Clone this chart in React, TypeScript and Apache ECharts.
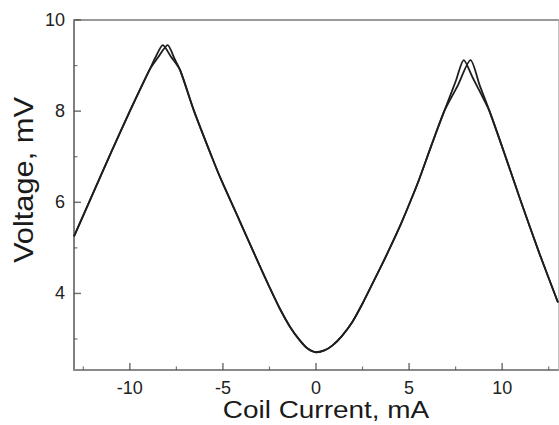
import React, { useEffect, useRef } from "react";
import * as echarts from "echarts";

// Coil current (mA) and voltage (mV) for the two overlapping sweeps
const currentA = [-13, -12.14, -11, -10, -8.95, -8.6, -8.23, -7.8, -7.3, -6.55, -5.6, -5.09, -4.11, -3.04, -2.5, -1.96, -1.4, -0.89, -0.45, 0, 0.45, 0.89, 1.4, 1.96, 2.5, 3.04, 3.6, 4.11, 4.6, 5.1, 5.53, 6.2, 6.89, 7.5, 7.94, 8.4, 8.9, 9.32, 10.2, 10.98, 12, 13];
const voltageA = [5.25, 6.05, 7.1, 8.0, 8.9, 9.2, 9.45, 9.2, 8.9, 8.0, 7.0, 6.49, 5.6, 4.62, 4.14, 3.68, 3.27, 2.98, 2.79, 2.71, 2.75, 2.86, 3.07, 3.38, 3.78, 4.22, 4.68, 5.12, 5.56, 6.05, 6.49, 7.25, 8.0, 8.65, 9.12, 8.75, 8.35, 8.0, 6.98, 6.05, 4.88, 3.8];
const currentB = [-13, -12.14, -11, -10, -8.95, -8.5, -7.97, -7.6, -7.3, -6.55, -5.6, -5.09, -4.11, -3.04, -2.5, -1.96, -1.4, -0.89, -0.45, 0, 0.45, 0.89, 1.4, 1.96, 2.5, 3.04, 3.6, 4.11, 4.6, 5.1, 5.53, 6.2, 6.89, 7.6, 8.3, 8.8, 9.32, 10.2, 10.98, 12, 13];
const voltageB = [5.25, 6.05, 7.1, 8.0, 8.9, 9.17, 9.45, 9.15, 8.9, 8.0, 7.0, 6.49, 5.6, 4.62, 4.14, 3.68, 3.27, 2.98, 2.79, 2.71, 2.75, 2.86, 3.07, 3.38, 3.78, 4.22, 4.68, 5.12, 5.56, 6.05, 6.49, 7.25, 8.0, 8.55, 9.12, 8.56, 8.0, 6.98, 6.05, 4.88, 3.8];

const xRange = [-13, 13];
const yRange = [2.32, 10];
const xMajorTicks = [-10, -5, 0, 5, 10];
const xMinorTicks = [-12.5, -7.5, -2.5, 2.5, 7.5, 12.5];
const yMajorTicks = [4, 6, 8, 10];
const yMinorTicks = [3, 5, 7, 9];

const xTitle = "Coil Current, mA";
const yTitle = "Voltage, mV";

const FONT = "'Liberation Sans', Arial, Helvetica, sans-serif";

export default function App() {
  const ref = useRef<HTMLDivElement>(null);

  useEffect(() => {
    if (!ref.current) return;
    const chart = echarts.init(ref.current, undefined, { renderer: "svg" });
    const hidden = { show: false };
    const baseX = { type: "value" as const, min: xRange[0], max: xRange[1], splitLine: hidden, minorTick: hidden, minorSplitLine: hidden, axisTick: hidden };
    const baseY = { type: "value" as const, min: yRange[0], max: yRange[1], splitLine: hidden, minorTick: hidden, minorSplitLine: hidden, axisTick: hidden };
    const pairs = (xs: number[], ys: number[]) => xs.map((x, i) => [x, ys[i]]);
    const tickSeries = (data: number[][], size: number[], offset: number[]) => ({
      type: "scatter",
      data,
      symbol: "rect",
      symbolSize: size,
      symbolOffset: offset,
      itemStyle: { color: "#505050" },
      silent: true,
      clip: false,
      z: 5,
    });

    chart.setOption({
      animation: false,
      backgroundColor: "#ffffff",
      grid: { left: 74, top: 20, width: 484, height: 350 },
      xAxis: [
        {
          ...baseX,
          position: "bottom",
          axisLine: { show: true, onZero: false, lineStyle: { color: "#8a8a8a", width: 2 } },
          axisLabel: { show: true, customValues: xMajorTicks, fontSize: 18, color: "#222", margin: 9, fontFamily: FONT },
        },
        {
          ...baseX,
          position: "top",
          axisLine: { show: true, onZero: false, lineStyle: { color: "#9a9a9a", width: 2 } },
          axisLabel: hidden,
        },
      ],
      yAxis: [
        {
          ...baseY,
          position: "left",
          axisLine: { show: true, onZero: false, lineStyle: { color: "#555", width: 1.5 } },
          axisLabel: { show: true, customValues: yMajorTicks, fontSize: 18, color: "#222", margin: 9, fontFamily: FONT },
        },
        {
          ...baseY,
          position: "right",
          axisLine: { show: true, onZero: false, lineStyle: { color: "#c4c4c4", width: 1 } },
          axisLabel: hidden,
        },
      ],
      series: [
        {
          type: "line",
          data: pairs(currentA, voltageA),
          showSymbol: false,
          smooth: 0.25,
          lineStyle: { color: "#1e1e1e", width: 1.8 },
          silent: true,
        },
        {
          type: "line",
          data: pairs(currentB, voltageB),
          showSymbol: false,
          smooth: 0.25,
          lineStyle: { color: "#1e1e1e", width: 1.8 },
          silent: true,
        },
        tickSeries(xMajorTicks.map((x) => [x, yRange[0]]), [1.5, 7], [0, -3.5]),
        tickSeries(xMinorTicks.map((x) => [x, yRange[0]]), [1.2, 3.5], [0, -1.75]),
        tickSeries(yMajorTicks.map((y) => [xRange[0], y]), [7, 1.5], [3.5, 0]),
        tickSeries(yMinorTicks.map((y) => [xRange[0], y]), [3.5, 1.2], [1.75, 0]),
      ],
      graphic: [
        {
          type: "text",
          x: 326,
          y: 410,
          scaleX: 1.14,
          style: {
            text: xTitle,
            fontSize: 24.5,
            fontFamily: FONT,
            fill: "#1a1a1a",
            align: "center",
            verticalAlign: "middle",
            textAlign: "center",
            textVerticalAlign: "middle",
          },
        },
        {
          type: "text",
          x: 23,
          y: 180,
          rotation: Math.PI / 2,
          scaleX: 1.1,
          style: {
            text: yTitle,
            fontSize: 28,
            fontFamily: FONT,
            fill: "#1a1a1a",
            align: "center",
            verticalAlign: "middle",
            textAlign: "center",
            textVerticalAlign: "middle",
          },
        },
      ],
    });
    return () => chart.dispose();
  }, []);

  return (
    <div
      ref={ref}
      style={{ position: "absolute", left: 0, top: 0, width: 559, height: 425, background: "#fff" }}
    />
  );
}
